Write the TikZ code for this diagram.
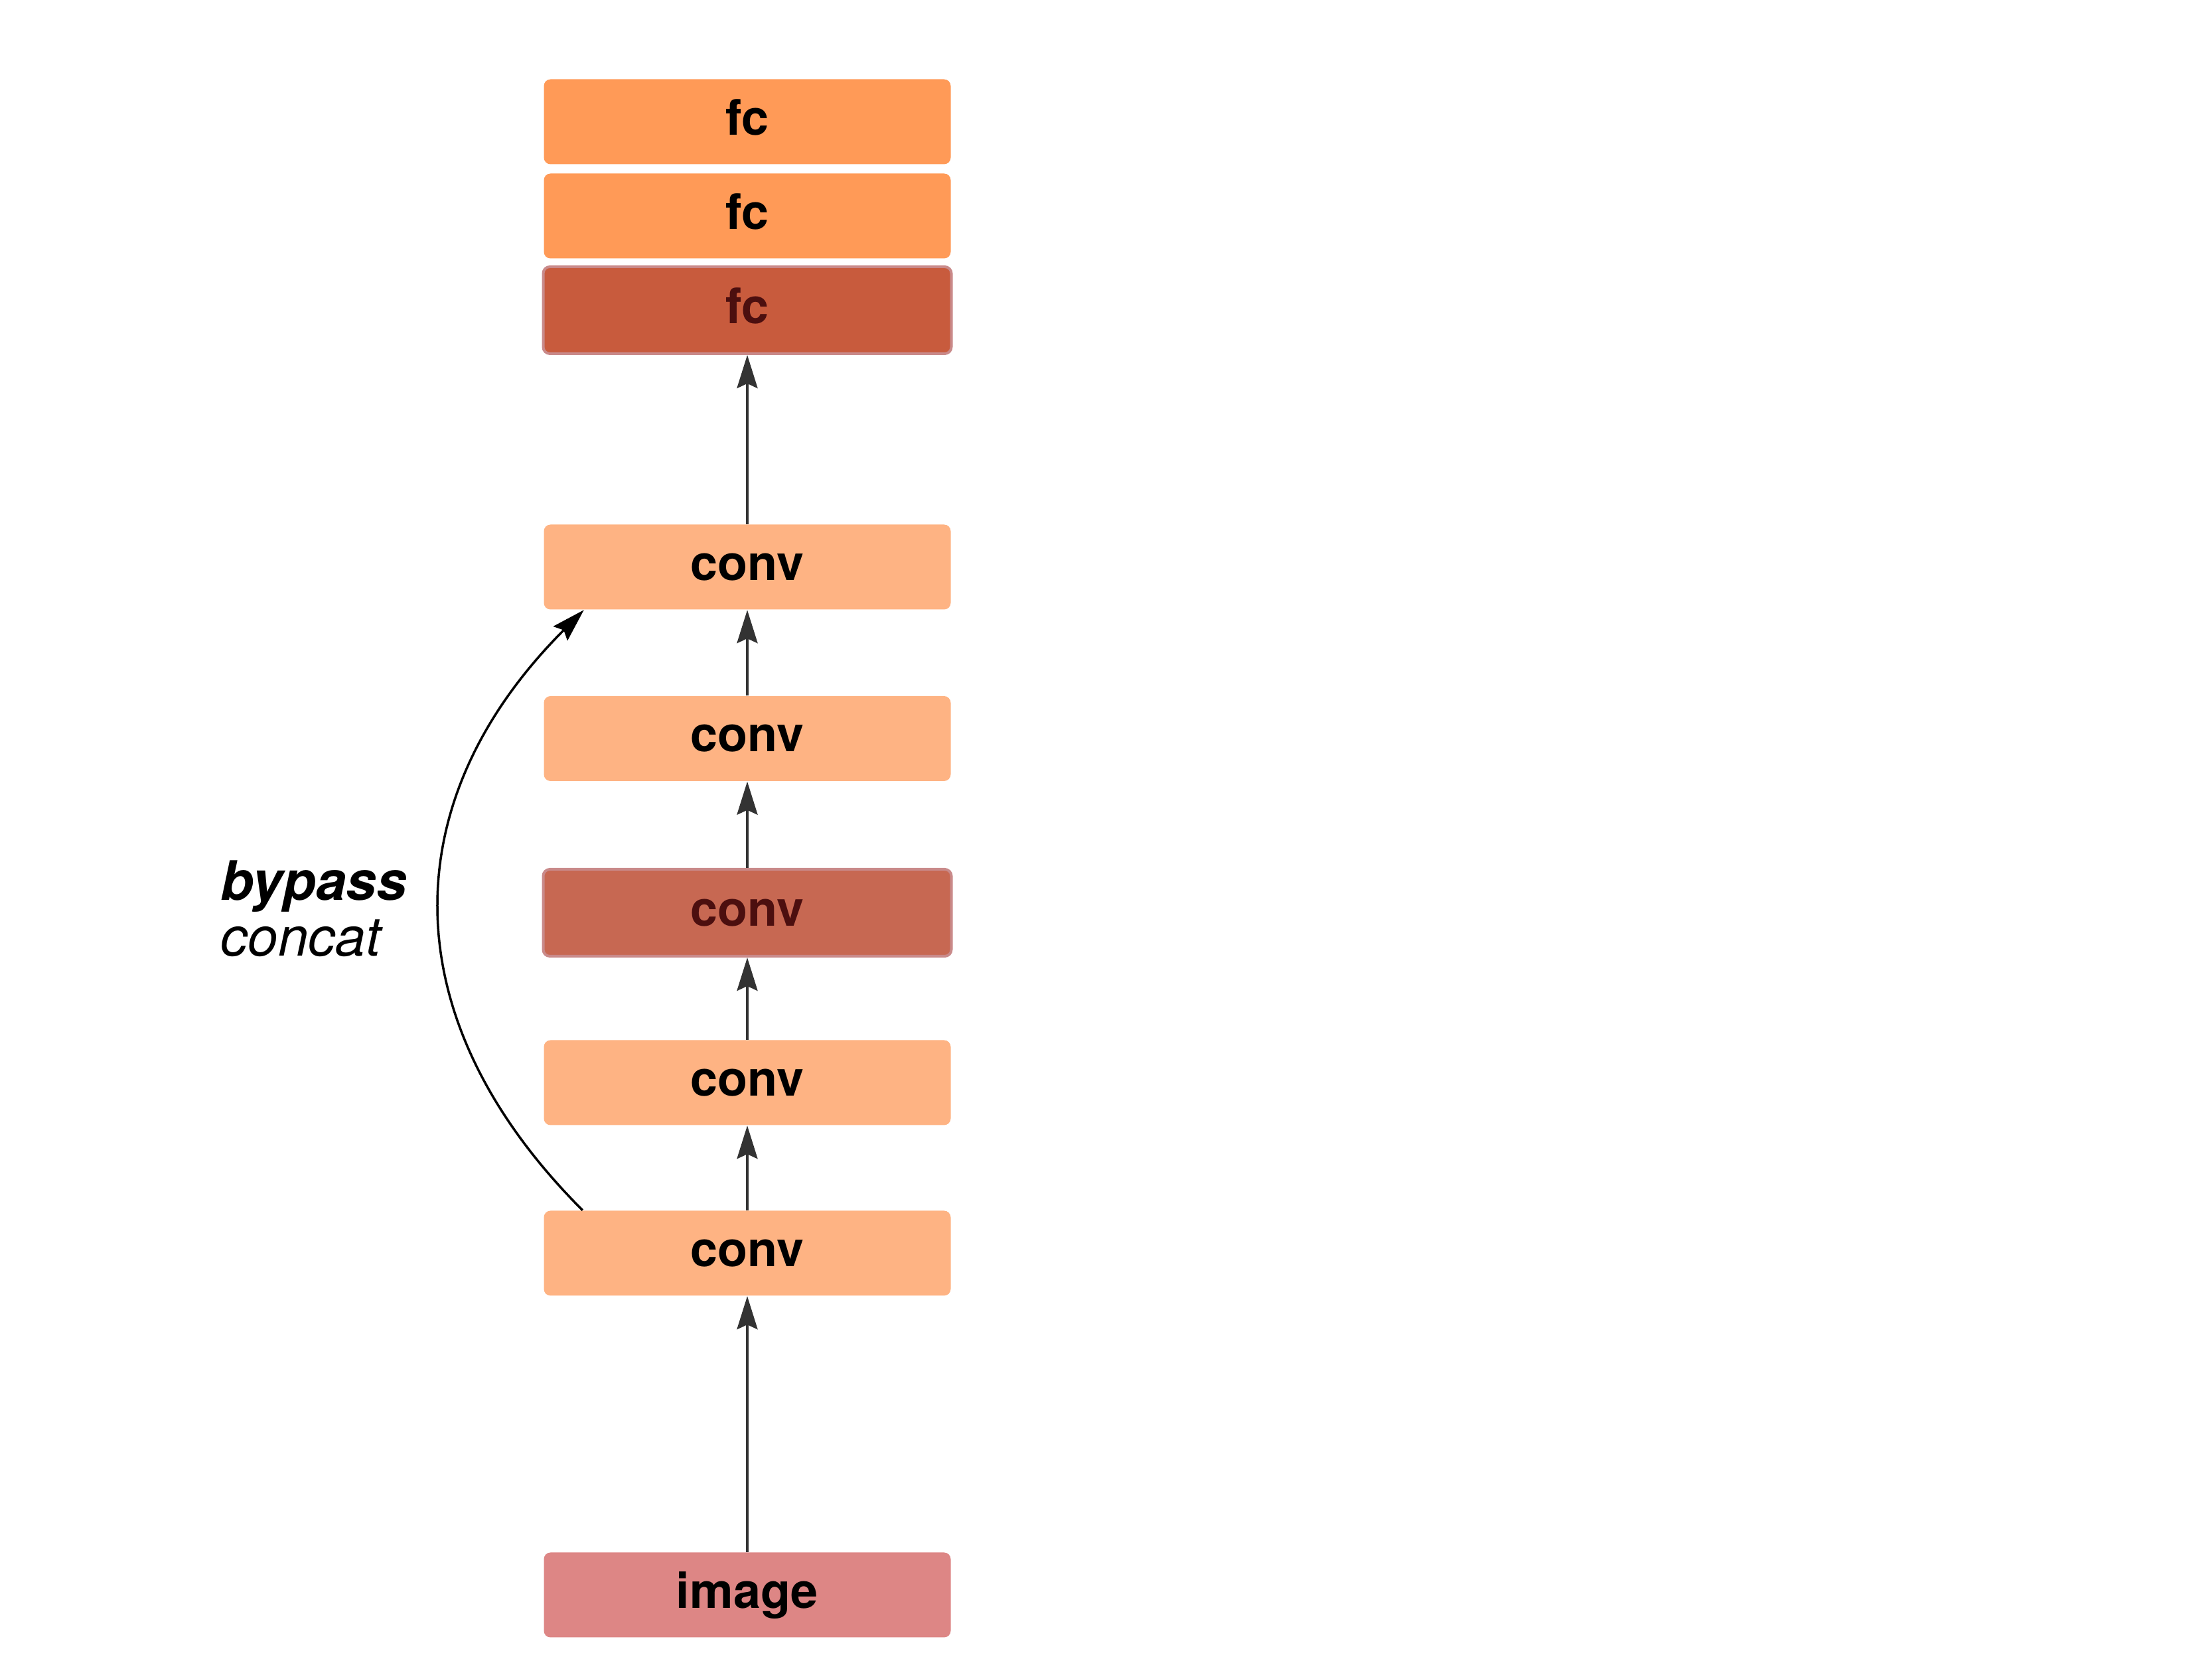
\documentclass[tikz,border=0pt]{standalone}
\usepackage{fontspec}
\setmainfont{TeX Gyre Heros}
\usetikzlibrary{arrows.meta}

\definecolor{fcorange}{HTML}{FF9A57}
\definecolor{convpeach}{HTML}{FEB383}
\definecolor{fcdark}{HTML}{C85B3D}
\definecolor{convdark}{HTML}{C76852}
\definecolor{darkedge}{HTML}{C98A8A}
\definecolor{imgrose}{HTML}{DD8685}
\definecolor{darktext}{HTML}{4C0F0F}
\definecolor{wire}{HTML}{333333}

\tikzset{
  layer/.style={rectangle, rounded corners=0.1cm, draw=none,
    minimum width=6.13cm, minimum height=1.28cm, inner sep=0pt,
    text height=0.55cm, text depth=0.15cm,
    font=\fontsize{21}{25}\selectfont\bfseries},
  hilite/.style={layer, draw=darkedge, line width=0.04cm,
    minimum width=6.15cm, minimum height=1.31cm, text=darktext},
  flow/.style={draw=wire, line width=0.04cm,
    -{Stealth[length=0.5cm, width=0.31cm, inset=0.07cm]}},
  skip/.style={draw=black, line width=0.035cm,
    -{Stealth[length=0.5cm, width=0.3cm, inset=0.07cm]}},
}

\begin{document}
\begin{tikzpicture}
  \useasboundingbox (0,0) rectangle (33.33,25);

  % layer stack
  \node[layer, fill=fcorange]  (fc1)   at (11.26,23.165) {fc};
  \node[layer, fill=fcorange]  (fc2)   at (11.26,21.745) {fc};
  \node[hilite, fill=fcdark]   (fc3)   at (11.26,20.325) {fc};
  \node[layer, fill=convpeach] (conv1) at (11.26,16.455) {conv};
  \node[layer, fill=convpeach] (conv2) at (11.26,13.87)  {conv};
  \node[hilite, fill=convdark] (conv3) at (11.26,11.245) {conv};
  \node[layer, fill=convpeach] (conv4) at (11.26,8.685)  {conv};
  \node[layer, fill=convpeach] (conv5) at (11.26,6.115)  {conv};
  \node[layer, fill=imgrose]   (img)   at (11.26,0.965)  {image};

  % forward path
  \draw[flow] (img)   -- (conv5);
  \draw[flow] (conv5) -- (conv4);
  \draw[flow] (conv4) -- (conv3);
  \draw[flow] (conv3) -- (conv2);
  \draw[flow] (conv2) -- (conv1);
  \draw[flow] (conv1) -- (fc3);

  % bypass connection
  \coordinate (bpfrom) at ([xshift=0.59cm]conv5.north west);
  \coordinate (bpto)   at ([xshift=0.61cm]conv1.south west);
  \draw[skip] (bpfrom) to[out=135, in=-135, looseness=1.15] (bpto);

  % label: base anchor sits on the last line
  \node[anchor=base west, align=left, inner sep=0pt,
        font=\fontsize{23.3}{23.9}\selectfont] (bplabel) at (3.32,10.59)
    {\textbf{\textit{bypass}}\\ \textit{concat}};
\end{tikzpicture}
\end{document}
